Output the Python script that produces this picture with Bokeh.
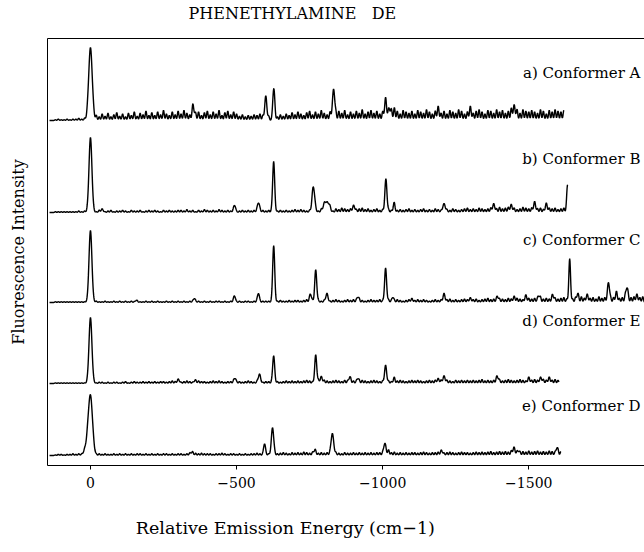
import numpy as np
from bokeh.plotting import figure
from bokeh.models import Range1d, FixedTicker, Label, LinearAxis
from bokeh.embed import file_html
from bokeh.resources import INLINE

# ---------------- data ----------------
title_text = "PHENETHYLAMINE\u00a0\u00a0\u00a0DE"
title_at = -691            # where the title is centred along the axis
x_label = "Relative Emission Energy (cm\u22121)"
x_label_at = -667          # where the x label is centred along the axis
y_label = "Fluorescence Intensity"
x_ticks = [0, -500, -1000, -1500]
x_tick_labels = ["0", "\u2212500", "\u22121000", "\u22121500"]

names = ["a) Conformer A", "b) Conformer B", "c) Conformer C",
         "d) Conformer E", "e) Conformer D"]

# band positions (cm-1 below origin), relative heights, widths (sigma, cm-1)
pos_a = [0, 353, 600, 627, 832, 1010, 1024, 1040, 1190, 1300, 1450]
hgt_a = [1.0, 0.10, 0.34, 0.40, 0.43, 0.18, 0.10, 0.08, 0.06, 0.06, 0.10]
wid_a = [6, 4, 3.5, 3.5, 4, 4, 3, 3, 4, 4, 5]

pos_b = [0, 40, 494, 575, 627, 763, 803, 815, 901, 1011, 1039, 1210, 1380,
         1440, 1520, 1560, 1633]
hgt_b = [1.0, 0.03, 0.08, 0.12, 0.68, 0.32, 0.12, 0.09, 0.07, 0.45, 0.10,
         0.12, 0.08, 0.06, 0.08, 0.06, 0.35]
wid_b = [5, 4, 4, 4, 3.5, 4.5, 6, 5, 4, 3.5, 3, 4, 4, 4, 4, 4, 3]

pos_c = [0, 156, 356, 493, 575, 627, 753, 771, 809, 915, 1010, 1035, 1100,
         1210, 1300, 1393, 1450, 1490, 1534, 1583, 1640, 1667, 1700, 1773,
         1800, 1836, 1870]
hgt_c = [1.0, 0.02, 0.05, 0.08, 0.12, 0.78, 0.10, 0.42, 0.10, 0.06, 0.45,
         0.06, 0.03, 0.10, 0.04, 0.06, 0.05, 0.06, 0.07, 0.06, 0.55, 0.09,
         0.07, 0.25, 0.08, 0.18, 0.06]
wid_c = [5, 3.5, 3.5, 3.5, 3.5, 3.5, 3.5, 3.5, 4, 3.5, 3.5, 3, 3.5, 3.5,
         3.5, 3.5, 3.5, 3.5, 3.5, 3.5, 3, 3, 3.5, 3.5, 3.5, 3.5, 3.5]

pos_d = [0, 301, 358, 496, 578, 627, 771, 790, 887, 915, 1010, 1039, 1190,
         1210, 1393, 1500, 1541, 1570]
hgt_d = [1.0, 0.04, 0.03, 0.07, 0.12, 0.42, 0.40, 0.07, 0.07, 0.06, 0.28,
         0.05, 0.04, 0.08, 0.07, 0.04, 0.06, 0.04]
wid_d = [5, 4, 4, 4, 4, 3.5, 3.5, 4, 3.5, 3.5, 3.5, 3, 4, 4, 4, 4, 4, 4]

pos_e = [0, -12, 346, 596, 623, 767, 828, 1007, 1020, 1202, 1449, 1465, 1596]
hgt_e = [1.0, 0.15, 0.03, 0.20, 0.48, 0.06, 0.38, 0.18, 0.06, 0.05, 0.09,
         0.05, 0.10]
wid_e = [7, 8, 4, 3.5, 4, 4, 4.5, 4, 3, 4, 4, 3, 3]

# baseline ripple (% of origin band), one value every 10 cm-1 from -120 cm-1
noise_a = [1, 2, 1, 1, 2, 1, 2, 2, 3, 2, 3, 4, 0,
           4, 7, 5, 9, 6, 10, 5, 8, 11, 6,
           9, 5, 10, 7, 12, 6, 10, 8, 13, 7,
           11, 7, 12, 8, 14, 9, 7, 12, 8, 13,
           9, 14, 10, 8, 15, 9, 12, 7, 11, 13,
           8, 12, 9, 14, 7, 11, 13, 8, 12, 9,
           6, 8, 5, 7, 6, 8, 7, 9, 7, 0,
           6, 0, 7, 5, 8, 6, 9, 7, 11, 8,
           12, 9, 7, 11, 13, 8, 12, 9, 14, 10,
           8, 12, 0, 9, 13, 10, 14, 8, 12, 9,
           13, 10, 15, 9, 12, 14, 10, 13, 9, 12,
           14, 12, 15, 10, 13, 9, 14, 12, 10, 13,
           9, 14, 12, 10, 15, 12, 9, 13, 14, 10,
           13, 9, 14, 12, 10, 15, 13, 9, 12, 14,
           10, 13, 15, 12, 9, 14, 13, 10, 15, 12,
           14, 10, 13, 16, 12, 14, 10, 15, 13, 12,
           14, 12, 10, 15, 13, 9, 14, 12, 15, 13,
           12, 14]
noise_b = [1, 1, 1, 1, 1, 1, 1, 1, 2, 1, 2, 2, 0,
           2, 1, 3, 2, 1, 2, 3, 1, 2, 2,
           3, 2, 1, 3, 2, 2, 3, 1, 2, 3,
           2, 3, 2, 1, 3, 2, 3, 2, 2, 3,
           3, 2, 4, 2, 3, 1, 3, 2, 4, 3,
           2, 3, 2, 4, 3, 2, 3, 2, 3, 0,
           2, 3, 2, 3, 2, 3, 2, 2, 3, 2,
           3, 2, 0, 2, 3, 2, 3, 2, 3, 4,
           3, 4, 3, 2, 3, 4, 3, 2, 4, 3,
           3, 4, 2, 5, 4, 6, 5, 4, 5, 3,
           4, 5, 6, 4, 5, 3, 4, 5, 3, 4,
           0, 4, 3, 4, 3, 4, 3, 4, 5, 3,
           4, 3, 4, 5, 3, 4, 3, 5, 4, 3,
           0, 4, 3, 5, 4, 3, 4, 5, 6, 4,
           5, 4, 6, 5, 4, 5, 6, 4, 5, 7,
           5, 6, 7, 5, 6, 4, 5, 7, 6, 5,
           6, 7, 5, 6, 4, 7, 6, 5, 6, 4,
           5, 6, 4]
noise_c = [1, 1, 1, 1, 1, 1, 1, 1, 1, 1, 1, 1, 0,
           1, 2, 1, 1, 2, 1, 1, 2, 1, 2,
           1, 2, 1, 2, 1, 2, 1, 1, 2, 1,
           2, 1, 2, 1, 1, 2, 1, 2, 1, 2,
           1, 2, 1, 2, 2, 1, 2, 1, 2, 1,
           2, 1, 2, 2, 1, 2, 1, 2, 2, 1,
           2, 1, 2, 2, 1, 2, 2, 1, 2, 2,
           2, 1, 2, 2, 3, 2, 2, 3, 2, 3,
           3, 2, 3, 4, 3, 3, 4, 3, 2, 3,
           3, 2, 3, 4, 3, 2, 3, 4, 3, 4,
           3, 4, 3, 2, 3, 4, 3, 3, 4, 3,
           3, 4, 3, 3, 4, 3, 2, 3, 4, 3,
           3, 4, 3, 4, 3, 2, 3, 4, 3, 4,
           3, 4, 5, 3, 4, 3, 4, 5, 4, 3,
           4, 5, 3, 4, 5, 6, 4, 5, 4, 5,
           5, 4, 6, 5, 4, 6, 5, 4, 5, 6,
           5, 6, 4, 7, 5, 6, 5, 7, 6, 5,
           6, 7, 5, 6, 5, 7, 6, 8, 6, 5,
           6, 7, 5, 8, 6, 7, 5, 6, 7, 8,
           6, 7, 9, 6, 7, 8, 6, 7, 8]
noise_d = [1, 1, 1, 1, 1, 1, 1, 1, 1, 1, 1, 2, 0,
           2, 1, 2, 2, 1, 2, 1, 2, 2, 1,
           2, 3, 1, 2, 3, 2, 2, 3, 2, 3,
           2, 3, 2, 3, 3, 2, 3, 4, 3, 3,
           2, 3, 4, 3, 2, 3, 4, 3, 3, 2,
           3, 4, 3, 4, 3, 2, 3, 3, 4, 0,
           3, 2, 3, 4, 3, 2, 3, 3, 2, 3,
           3, 2, 0, 3, 2, 3, 4, 3, 4, 3,
           4, 3, 4, 5, 4, 3, 4, 5, 4, 5,
           4, 3, 4, 5, 4, 3, 5, 4, 5, 4,
           3, 4, 5, 4, 3, 4, 5, 4, 3, 4,
           0, 4, 3, 5, 4, 5, 4, 3, 4, 5,
           4, 5, 4, 3, 4, 5, 4, 5, 4, 5,
           4, 5, 4, 3, 5, 4, 5, 4, 5, 4,
           5, 4, 5, 6, 4, 5, 4, 5, 6, 5,
           4, 5, 6, 5, 4, 5, 6, 5, 4, 6,
           5, 6, 5, 4, 6, 5, 6, 5, 6, 5]
noise_e = [1, 2, 2, 1, 2, 2, 3, 2, 3, 2, 3, 4, 0,
           3, 2, 3, 2, 3, 2, 2, 3, 2, 3,
           2, 3, 2, 3, 2, 3, 3, 2, 3, 2,
           3, 2, 3, 2, 3, 3, 2, 3, 2, 3,
           3, 2, 3, 4, 5, 4, 3, 4, 3, 3,
           3, 2, 3, 3, 4, 3, 2, 3, 3, 2,
           3, 2, 3, 2, 3, 3, 4, 3, 2, 0,
           3, 0, 4, 3, 4, 5, 4, 3, 5, 4,
           5, 4, 6, 5, 4, 5, 6, 4, 5, 4,
           5, 4, 0, 5, 4, 3, 5, 4, 4, 5,
           4, 5, 4, 5, 4, 5, 4, 5, 5, 4,
           5, 4, 5, 6, 4, 5, 4, 5, 4, 5,
           5, 4, 5, 6, 5, 4, 5, 5, 6, 5,
           4, 5, 6, 5, 4, 5, 6, 5, 5, 4,
           5, 6, 5, 6, 5, 6, 7, 5, 6, 7,
           6, 7, 6, 8, 6, 7, 6, 7, 6, 8,
           6, 7, 8, 6, 7, 6, 8, 7, 6, 8,
           7]

# scan end (cm-1), vertical offset and origin height of each trace (plot units)
scan_end = [1620, 1633, 1896, 1603, 1610]
offsets = [345, 253, 163, 82, 10]
heights = [73, 75, 72, 66, 58]
label_y = [393, 307, 226, 145, 60]

# ---------------- figure ----------------
p = figure(width=644, height=552, x_range=Range1d(147, -1896),
           y_range=Range1d(0, 427), output_backend="svg",
           toolbar_location=None, min_border_left=47, min_border_right=0,
           min_border_top=38, min_border_bottom=87)
p.grid.visible = False
p.outline_line_color = None
p.background_fill_color = "white"
p.border_fill_color = "white"

font = "DejaVu Serif"

xa = p.xaxis[0]
xa.ticker = FixedTicker(ticks=x_ticks)
xa.major_label_overrides = {t: l for t, l in zip(x_ticks, x_tick_labels)}
xa.major_label_text_font = font
xa.major_label_text_font_size = "14px"
xa.major_label_text_color = "black"
xa.major_tick_in = 0
xa.major_tick_out = 4
xa.minor_tick_line_color = None
xa.axis_line_color = "black"
xa.major_label_standoff = 7

# the x axis title, centred where the reference centres it
xl = LinearAxis(ticker=FixedTicker(ticks=[x_label_at]),
                major_label_overrides={x_label_at: x_label},
                major_label_text_font=font, major_label_text_font_size="17.5px",
                major_label_text_color="black", major_label_standoff=21,
                major_tick_line_color=None, minor_tick_line_color=None,
                axis_line_color=None)
p.add_layout(xl, "below")

ya = p.yaxis[0]
ya.ticker = FixedTicker(ticks=[])
ya.minor_tick_line_color = None
ya.major_label_text_font_size = "0px"
ya.axis_label = y_label
ya.axis_label_text_font = font
ya.axis_label_text_font_size = "16px"
ya.axis_label_text_font_style = "normal"
ya.axis_label_text_color = "black"
ya.axis_label_standoff = 20
ya.axis_line_color = "black"

# top frame line, carrying the chart title above it
top = LinearAxis(ticker=FixedTicker(ticks=[title_at]),
                 major_label_overrides={title_at: title_text},
                 major_label_text_font=font, major_label_text_font_size="16px",
                 major_label_text_color="black", major_label_standoff=10,
                 major_tick_line_color=None, minor_tick_line_color=None,
                 axis_line_color="black")
p.add_layout(top, "above")

pos_all = [pos_a, pos_b, pos_c, pos_d, pos_e]
hgt_all = [hgt_a, hgt_b, hgt_c, hgt_d, hgt_e]
wid_all = [wid_a, wid_b, wid_c, wid_d, wid_e]
noise_all = [noise_a, noise_b, noise_c, noise_d, noise_e]

for k in range(5):
    s = np.arange(-140.0, scan_end[k] + 0.5, 1.0)
    sig = np.zeros_like(s)
    for c, h, w in zip(pos_all[k], hgt_all[k], wid_all[k]):
        sig += h * np.exp(-0.5 * ((s - c) / w) ** 2)
    for i, n in enumerate(noise_all[k]):
        c = -120 + 10 * i
        sig += n / 100.0 * np.exp(-0.5 * ((s - c) / 2.5) ** 2)
    y = offsets[k] + heights[k] * sig
    p.line(-s, y, line_color="black", line_width=1.4)
    p.add_layout(Label(x=-1882, y=label_y[k], text=names[k], text_align="right",
                       text_baseline="middle", text_font=font,
                       text_font_size="15px", text_color="black"))

open("out.html", "w").write(file_html(p, INLINE))
